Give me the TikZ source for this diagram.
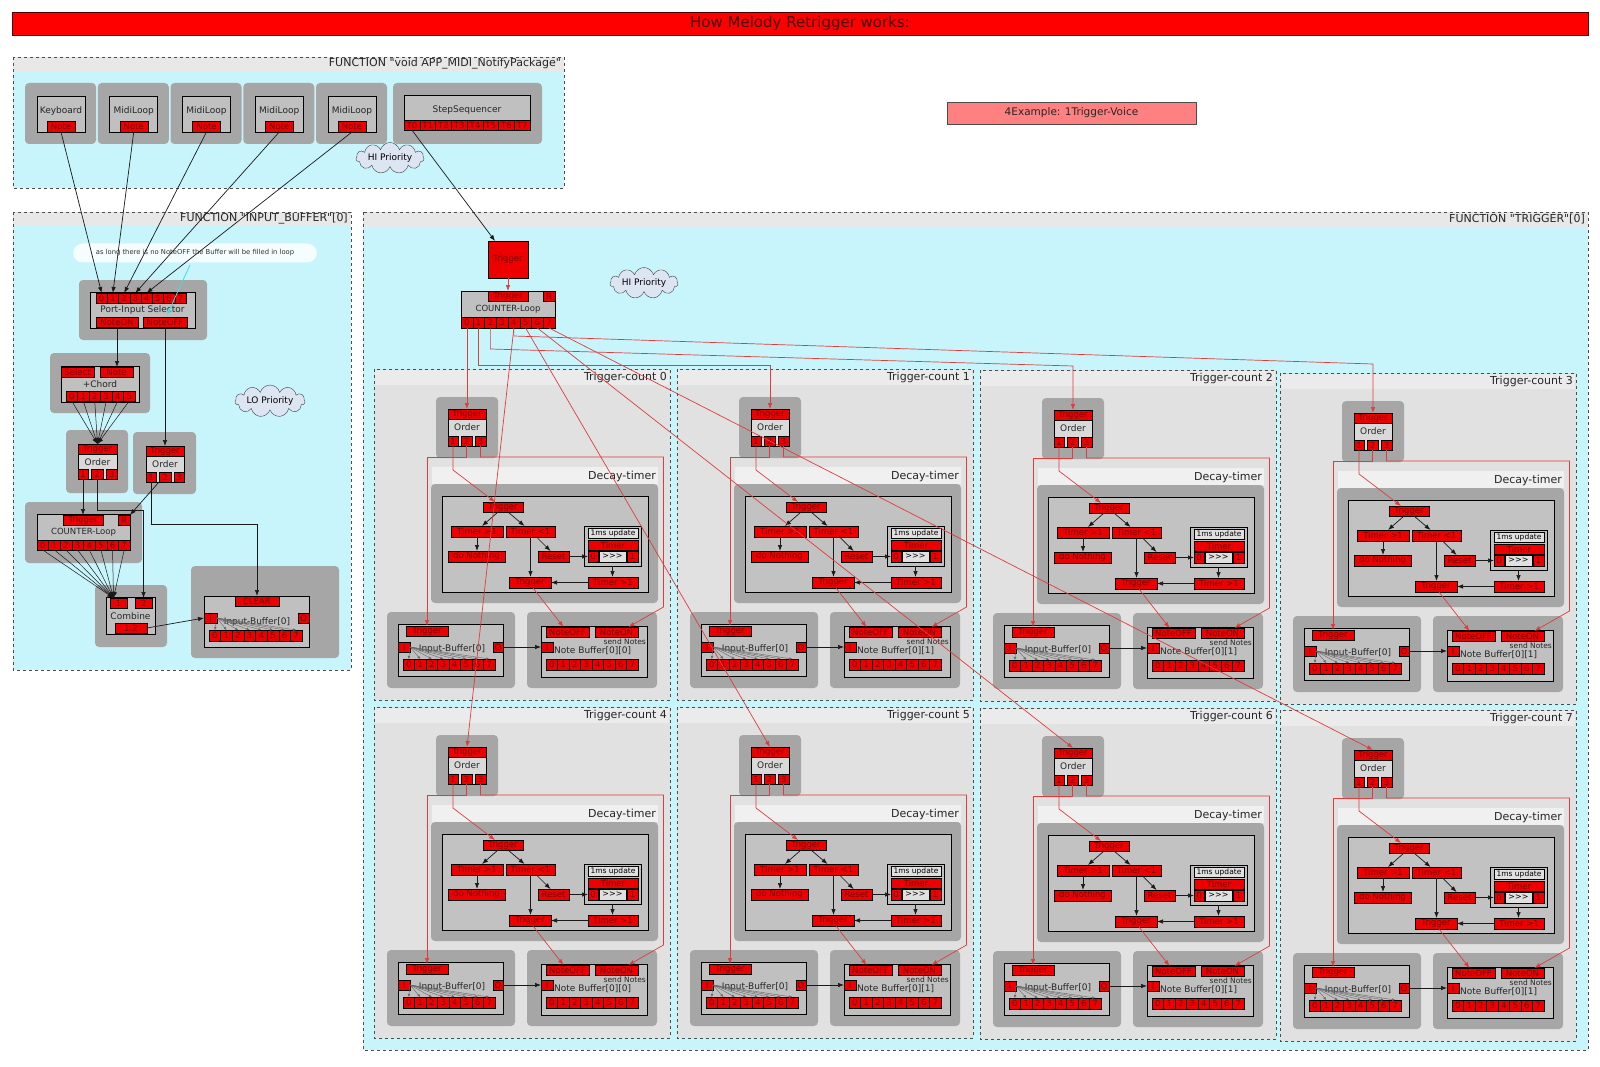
\documentclass[tikz,border=0pt]{standalone}
\usepackage{fontspec}
\setmainfont{DejaVu Sans}[Ligatures=TeXOff]
\usetikzlibrary{arrows.meta,calc,shapes.symbols}
\definecolor{cyanbg}{HTML}{C8F4FB}
\definecolor{fhead}{HTML}{E8E8E8}
\definecolor{gbx}{HTML}{A6A6A6}
\definecolor{modf}{HTML}{C0C0C0}
\definecolor{tcbody}{HTML}{E1E1E1}
\definecolor{tchead}{HTML}{EBEBEB}
\definecolor{dhead}{HTML}{F0F0F0}
\definecolor{cellred}{HTML}{EE0000}
\definecolor{celltxt}{HTML}{700000}
\definecolor{rline}{HTML}{E03C3C}
\definecolor{cloudf}{HTML}{DDE5F3}
\definecolor{cyanarrow}{HTML}{3FE0E0}
\newcommand\myfs[1]{\fontsize{#1}{#1}\selectfont}
% rectangle node from corners: style, name, x1, y1, x2, y2, text
\newcommand\rc[7]{%
 \pgfmathsetmacro\rcw{abs((#5)-(#3))}%
 \pgfmathsetmacro\rch{abs((#6)-(#4))}%
 \pgfmathsetmacro\rcx{((#3)+(#5))/2}%
 \pgfmathsetmacro\rcy{((#4)+(#6))/2}%
 \node[#1,minimum width=\rcw pt,minimum height=\rch pt] (#2) at (\rcx,\rcy) {#7};}
% row of red cells: name prefix, label prefix, x0, y1, y2, width, last index
\newcommand\cellrow[7]{%
 \foreach \ci in {0,...,#7}{%
  \pgfmathsetmacro\cxa{(#3)+\ci*(#6)}%
  \pgfmathsetmacro\cxb{(#3)+(\ci+1)*(#6)}%
  \rc{cellR}{#1\ci}{\cxa}{#4}{\cxb}{#5}{#2\ci}}}
% trigger-count cell: prefix, x, y, number, buffer index
\newcommand\tcell[5]{%
\begin{scope}[shift={(#2,#3)}]
 \rc{tcframe}{#1}{0}{0}{296}{331}{}
 \fill[tchead] (0.6,0.6) rectangle (295.4,16);
 \draw[frameline] (#1.north west) rectangle (#1.south east);
 \node[lbl,font=\myfs{11},anchor=east] (#1-title) at (293,8.5) {Trigger-count #4};
 \rc{graybox}{#1-ordg}{62}{28}{124}{89}{}
 \rc{modbox,fill=black!15}{#1-ordm}{74}{40}{112}{77}{}
 \node[lbl,font=\myfs{9}] (#1-ordl) at (93,58.5) {Order};
 \rc{cellR}{#1-ordT}{74}{40}{112}{50}{Trigger}
 \rc{cellR}{#1-o1}{74}{67}{84}{77}{1}
 \rc{cellR}{#1-o2}{87}{67}{98}{77}{2}
 \rc{cellR}{#1-o3}{101}{67}{112}{77}{3}
 \fill[dhead] (58,98) rectangle (284,115);
 \node[lbl,font=\myfs{11},anchor=east] (#1-dl) at (282,107) {Decay-timer};
 \rc{graybox}{#1-dec}{57}{115}{284}{234}{}
 \rc{modbox,fill=black!24}{#1-decin}{68}{127}{274}{223}{}
 \rc{cellR}{#1-dT}{109}{133}{149}{143}{Trigger}
 \rc{cellR}{#1-tg}{77}{157}{129}{168}{Timer >1}
 \rc{cellR}{#1-tl}{132}{157}{181}{168}{Timer <1}
 \rc{cellR}{#1-dn}{74}{182}{131}{193}{do Nothing}
 \rc{cellR}{#1-rs}{164}{182}{195}{193}{Reset}
 \rc{modbox,fill=modf}{#1-ms}{210}{157}{267}{197}{}
 \rc{lightbox}{#1-msl}{214}{159}{264}{169}{1ms update}
 \rc{cellR}{#1-mT}{214}{171}{264}{181}{Timer}
 \rc{cellR}{#1-m0}{214}{182}{224}{193}{0}
 \rc{lightbox,font=\myfs{8}}{#1-mx}{225}{182}{252}{193}{>>>}
 \rc{cellR}{#1-m1}{253}{182}{264}{193}{1}
 \rc{cellR}{#1-lT}{135}{208}{177}{219}{Trigger}
 \rc{cellR}{#1-lg}{214}{208}{264}{219}{Timer >1}
 \rc{graybox}{#1-ibg}{13}{243}{141}{319}{}
 \rc{modbox}{#1-ib}{24}{255}{129}{307}{}
 \rc{cellR}{#1-ibT}{32}{257}{74}{267}{Trigger}
 \rc{cellR}{#1-ibI}{24}{273}{36}{283}{I}
 \rc{cellR}{#1-ibO}{119}{273}{129}{283}{O}
 \node[lbl,font=\myfs{9}] (#1-ibl) at (78,280.5) {Input-Buffer[0]};
 \cellrow{#1-ib}{}{29}{290}{301}{11.5}{7}
 \rc{graybox}{#1-nbg}{153}{243}{283}{319}{}
 \rc{modbox}{#1-nb}{167}{257}{273}{308}{}
 \rc{cellR}{#1-nOff}{172}{258}{215}{268}{NoteOFF}
 \rc{cellR}{#1-nOn}{221}{258}{264}{268}{NoteON}
 \node[lbl,font=\myfs{7.5},anchor=east] (#1-snd) at (272,273) {send Notes};
 \rc{cellR}{#1-nI}{167}{273}{179}{283}{I}
 \node[lbl,font=\myfs{9},anchor=west] (#1-nbl) at (180,282) {Note Buffer#5};
 \cellrow{#1-nb}{}{172}{290}{301}{11.5}{7}
 % connectors
 \foreach \i in {0,...,7} \draw[fan] (#1-ibI.east) -- (#1-ib\i.north);
 \draw[barr] ($(#1-dT.south)+(-5,0)$) -- ($(#1-tg.north)+(5,0)$);
 \draw[barr] ($(#1-dT.south)+(5,0)$) -- ($(#1-tl.north)+(-6,0)$);
 \draw[barr] (#1-tg.south) -- (#1-tg.south |- #1-dn.north);
 \draw[barr] ($(#1-tl.south)+(6,0)$) -- ($(#1-rs.north)+(-3,0)$);
 \draw[barr] (#1-tl.south) -- (#1-tl.south |- #1-lT.north);
 \draw[barr] (#1-rs.east) -- (#1-m0.west);
 \draw[barr] (#1-ms.south) -- (#1-ms.south |- #1-lg.north);
 \draw[barr] (#1-lg.west) -- (#1-lT.east);
 \draw[barr] (#1-ibO.east) -- (#1-nI.west);
 \draw[rarr] (#1-o1.south) -- ++(0,24) -- ($(#1-dT.north)+(-8,0)$);
 \draw[rarr] (#1-o2.south) -- ++(0,11) -| (#1-ibT.north);
 \draw[rarr] (#1-o3.south) -- ++(0,11) -- ++(183,0) -- ++(0,150) -- ($(#1-nOn.north)+(12,0)$);
 \draw[rarr] ($(#1-lT.south)+(3,0)$) -- ($(#1-nOff.north)+(-4,0)$);
\end{scope}}
\begin{document}
\begin{tikzpicture}[x=1pt,y=-1pt,
 cellR/.style={draw=black,line width=0.5pt,fill=cellred,text=celltxt,font=\myfs{8.5},inner sep=0pt,outer sep=0pt},
 modbox/.style={draw=black,line width=0.7pt,fill=modf,inner sep=0pt,outer sep=0pt},
 lightbox/.style={draw=black,line width=0.4pt,fill=black!12,font=\myfs{7.5},inner sep=0pt,outer sep=0pt},
 graybox/.style={fill=gbx,rounded corners=4pt,inner sep=0pt,outer sep=0pt},
 funcbox/.style={fill=cyanbg,inner sep=0pt,outer sep=0pt},
 tcframe/.style={fill=tcbody,inner sep=0pt,outer sep=0pt},
 frameline/.style={draw=black!70,dashed,line width=0.7pt},
 lbl/.style={font=\myfs{9},inner sep=0pt,text=black!85},
 rarr/.style={draw=rline,line width=0.7pt,-{Latex[length=6pt,width=4.5pt]}},
 barr/.style={draw=black!90,line width=0.7pt,-{Latex[length=6pt,width=4.5pt]}},
 fan/.style={draw=black!60,line width=0.4pt,-{Latex[length=3pt,width=2.5pt]}},
 cloudy/.style={cloud,cloud puffs=11,cloud ignores aspect,draw=black!75,fill=cloudf,font=\myfs{9},inner sep=0pt,minimum width=68pt,minimum height=31pt}]
\fill[white] (0,0) rectangle (1600,1067);
\useasboundingbox (0,0) rectangle (1600,1067);
% title
\rc{draw=black!70!red,line width=0.8pt,fill=red,text=black!75!red,font=\myfs{15},inner sep=0pt}{title}{12}{12}{1588}{35}{How Melody Retrigger works:}
\rc{draw=black!70,line width=0.6pt,fill=red!50,text=black!85,font=\myfs{10.5},inner sep=0pt}{example}{947}{102}{1196}{124}{4Example: 1Trigger-Voice}
% ---------- function 1
\rc{funcbox}{f1}{13}{57}{564}{188}{}
\fill[fhead] (13,57) rectangle (564,71);
\draw[frameline] (f1.north west) rectangle (f1.south east);
\node[lbl,font=\myfs{11},anchor=east] (f1-t) at (561,64) {FUNCTION "void APP\_MIDI\_NotifyPackage"};
\foreach \k/\nm/\lab in {0/kb/Keyboard,1/mla/MidiLoop,2/mlb/MidiLoop,3/mlc/MidiLoop,4/mld/MidiLoop}{
 \pgfmathsetmacro\gx{25+72.75*\k}
 \rc{graybox}{\nm-g}{\gx}{83}{\gx+71}{144}{}
 \rc{modbox}{\nm-m}{\gx+12}{96}{\gx+60}{132}{}
 \node[lbl] (\nm-l) at (\gx+36,111) {\lab};
 \rc{cellR}{\nm-n}{\gx+22}{121}{\gx+50}{132}{Note}
}
\rc{graybox}{ss-g}{393}{83}{542}{144}{}
\rc{modbox}{ss-m}{404}{95}{530}{130}{}
\node[lbl] (ss-l) at (467,110) {StepSequencer};
\cellrow{ss-t}{T}{404}{120}{130}{15.75}{7}
\node[cloudy] (hia) at (390,158) {HI Priority};
% ---------- function 2
\rc{funcbox}{f2}{13}{212}{351}{670}{}
\fill[fhead] (13,212) rectangle (351,226);
\draw[frameline] (f2.north west) rectangle (f2.south east);
\node[lbl,font=\myfs{11},anchor=east] (f2-t) at (348,219) {FUNCTION "INPUT\_BUFFER"[0]};
\node[fill=white,fill opacity=0.85,text opacity=1,rounded corners=10pt,minimum width=244pt,minimum height=19pt,inner sep=0pt,font=\myfs{6.8},text=black!80] (note) at (195,253) {as long there is no NoteOFF the Buffer will be filled in loop};
\rc{graybox}{pis-g}{79}{280}{207}{340}{}
\rc{modbox}{pis}{90}{292}{195}{328}{}
\cellrow{pis-c}{}{96}{293}{303}{11.25}{7}
\node[lbl] (pis-l) at (142.5,310) {Port-Input Selector};
\rc{cellR}{pis-non}{96}{317}{138}{327}{NoteON}
\rc{cellR}{pis-noff}{143}{317}{187}{327}{NoteOFF}
\rc{graybox}{ch-g}{50}{353}{150}{413}{}
\rc{modbox}{ch}{61}{366}{139}{402}{}
\rc{cellR}{ch-sel}{61}{367}{94}{377}{Select}
\rc{cellR}{ch-note}{100}{367}{133}{377}{Note}
\node[lbl] (ch-l) at (100,384) {+Chord};
\cellrow{ch-c}{}{66}{391}{401}{11.5}{5}
\node[cloudy,minimum width=70pt,minimum height=32pt] (lo) at (270,401) {LO Priority};
\rc{graybox}{oa-g}{66}{430}{128}{493}{}
\rc{modbox,fill=black!15}{oa}{78}{444}{117}{479}{}
\rc{cellR}{oa-T}{78}{444}{117}{454}{Trigger}
\node[lbl] (oa-l) at (97.5,462) {Order};
\rc{cellR}{oa-c1}{78}{469}{88}{479}{1}
\rc{cellR}{oa-c2}{91}{469}{103}{479}{2}
\rc{cellR}{oa-c3}{106}{469}{117}{479}{3}
\rc{graybox}{ob-g}{133}{432}{196}{494}{}
\rc{modbox,fill=black!15}{ob}{146}{446}{184}{482}{}
\rc{cellR}{ob-T}{146}{446}{184}{456}{Trigger}
\node[lbl] (ob-l) at (165,464) {Order};
\rc{cellR}{ob-c1}{146}{472}{156}{482}{1}
\rc{cellR}{ob-c2}{159}{472}{171}{482}{2}
\rc{cellR}{ob-c3}{174}{472}{184}{482}{3}
\rc{graybox}{cl-g}{25}{502}{142}{563}{}
\rc{modbox}{cl}{37}{514}{130}{550}{}
\rc{cellR}{cl-T}{63}{515}{103}{525}{Trigger}
\rc{cellR}{cl-R}{118}{515}{130}{525}{R}
\node[lbl,font=\myfs{8.5}] (cl-l) at (83.5,532) {COUNTER-Loop};
\cellrow{cl-c}{}{37}{540}{550}{11.625}{7}
\rc{graybox}{cb-g}{95}{585}{167}{647}{}
\rc{modbox}{cb}{106}{597}{155}{634}{}
\rc{cellR}{cb-1}{110}{598}{127}{608}{1}
\rc{cellR}{cb-2}{135}{598}{152}{608}{2}
\node[lbl] (cb-l) at (130.5,616) {Combine};
\rc{cellR}{cb-12}{115}{623}{147}{633}{1.2}
\rc{graybox}{lib-g}{191}{566}{339}{658}{}
\rc{modbox}{lib}{204}{596}{309}{647}{}
\rc{cellR}{lib-clr}{235}{596}{279}{606}{CLEAR}
\rc{cellR}{lib-I}{204}{613}{217}{623}{I}
\rc{cellR}{lib-O}{298}{613}{309}{623}{O}
\node[lbl] (lib-l) at (257,622) {Input-Buffer[0]};
\cellrow{lib-c}{}{209}{630}{641}{11.625}{7}
% function 2 wiring
\foreach \nm/\p in {kb/0,mla/1,mlb/2,mlc/3,mld/4} \draw[barr] (\nm-n.south) -- (pis-c\p.north);
\coordinate (cyst) at (190,265);
\draw[draw=cyanarrow,line width=0.8pt,-{Latex[length=6pt,width=4.5pt]}] (cyst) -- ($(pis-noff.north)+(2,-2)$);
\draw[barr] (pis-non.south) -- (pis-non.south |- ch-note.north);
\draw[barr] (pis-noff.south) -- (pis-noff.south |- ob-T.north);
\foreach \i in {0,...,5} \draw[barr,line width=0.5pt] (ch-c\i.south) -- (oa-T.north);
\draw[barr] (oa-c1.south) -- (oa-c1.south |- cl-T.north);
\draw[barr] (oa-c2.south) -- ++(0,31) -| (cb-2.north);
\draw[barr] (ob-c2.south west) -- (cl-R.north east);
\draw[barr] (ob-c1.south) -- ++(0,42) -| (lib-clr.north);
\foreach \i in {0,...,7} \draw[barr,line width=0.5pt] (cl-c\i.south) -- ($(cb-1.north)+(-5,0)$);
\draw[barr] (cb-12.east) -- (lib-I.west);
\foreach \i in {0,...,7} \draw[fan] (lib-I.east) -- (lib-c\i.north);
% ---------- function 3
\rc{funcbox}{f3}{363}{212}{1588}{1050}{}
\fill[fhead] (363,212) rectangle (1588,227);
\draw[frameline] (f3.north west) rectangle (f3.south east);
\node[lbl,font=\myfs{11},anchor=east] (f3-t) at (1585,219.5) {FUNCTION "TRIGGER"[0]};
\rc{cellR,font=\myfs{8.5}}{bigT}{488}{241}{528}{278}{Trigger}
\rc{modbox}{ctr}{461}{291}{555}{328}{}
\rc{cellR}{ctr-T}{488}{291}{528}{301}{Trigger}
\rc{cellR}{ctr-R}{543}{291}{555}{301}{R}
\node[lbl,font=\myfs{8.5}] (ctr-l) at (508,309) {COUNTER-Loop};
\cellrow{ctr-c}{}{461}{317}{328}{11.75}{7}
\node[cloudy] (hib) at (644,283) {HI Priority};
\draw[rarr] (bigT.south) -- (ctr-T.north);
\draw[barr] (ss-t0.south) -- ($(bigT.north west)+(7,0)$);
\tcell{t0}{374}{369}{0}{[0][0]}
\tcell{t1}{677}{369}{1}{[0][1]}
\tcell{t2}{980}{370}{2}{[0][1]}
\tcell{t3}{1280}{373}{3}{[0][1]}
\tcell{t4}{374}{707}{4}{[0][0]}
\tcell{t5}{677}{707}{5}{[0][1]}
\tcell{t6}{980}{708}{6}{[0][1]}
\tcell{t7}{1280}{710}{7}{[0][1]}
% counter fan-out
\draw[rarr] (ctr-c0.south) -- (ctr-c0.south |- t0-ordT.north);
\draw[rarr] (ctr-c1.south) -- ++(0,37) -| (t1-ordT.north);
\draw[rarr] (ctr-c2.south) -- ++(0,21) -- ($(t2-ordT.north)+(0,-44)$) -- (t2-ordT.north);
\draw[rarr] (ctr-c4.south) -- ++(0,8) -- ($(t3-ordT.north)+(0,-49)$) -- (t3-ordT.north);
\draw[rarr] (ctr-c4.south) -- (t4-ordT.north);
\draw[rarr] (ctr-c5.south) -- (t5-ordT.north);
\draw[rarr] (ctr-c6.south) -- (t6-ordT.north);
\draw[rarr] (ctr-c7.south) -- (t7-ordT.north);
\end{tikzpicture}
\end{document}
